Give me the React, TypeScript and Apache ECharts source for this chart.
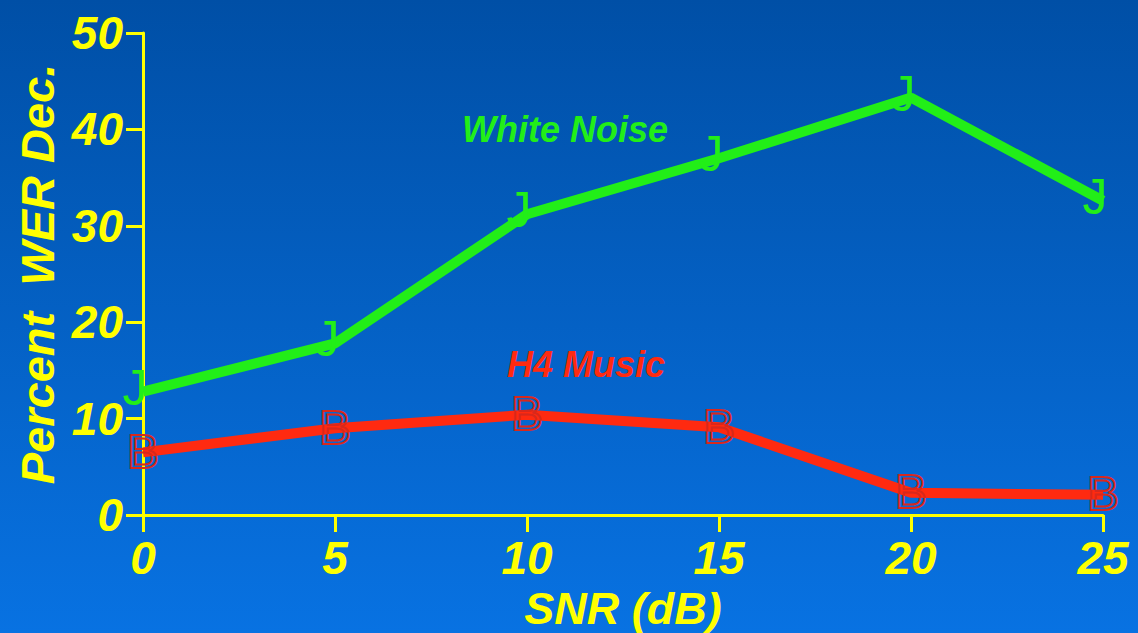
import React, { useEffect, useRef } from "react";
import * as echarts from "echarts";

const snr = [0, 5, 10, 15, 20, 25];
const whiteNoise = [12.8, 17.8, 31.2, 37.0, 43.3, 32.6];
const h4Music = [6.5, 9.0, 10.4, 9.1, 2.3, 2.1];
const yTicks = [0, 10, 20, 30, 40, 50];

const FONT = "Liberation Sans";
const YELLOW = "#ffff00";
const GREEN = "#22ee18";
const RED = "#ff2a10";

export default function App() {
  const ref = useRef<HTMLDivElement>(null);
  useEffect(() => {
    document.body.style.margin = "0";
    const chart = echarts.init(ref.current!, null, { renderer: "svg" });
    const axisText = {
      color: YELLOW,
      fontFamily: FONT,
      fontWeight: "bold" as const,
      fontStyle: "italic" as const,
      fontSize: 46,
    };
    chart.setOption({
      animation: false,
      backgroundColor: new echarts.graphic.LinearGradient(0, 0, 0, 1, [
        { offset: 0, color: "#004fa6" },
        { offset: 1, color: "#0872e2" },
      ]),
      grid: { left: 143, right: 35, top: 33, bottom: 118, outerBoundsMode: "none", containLabel: false },
      xAxis: {
        type: "value",
        min: 0,
        max: 25,
        interval: 5,
        name: "SNR (dB)",
        nameLocation: "middle",
        nameGap: 71,
        nameTextStyle: { ...axisText, fontSize: 45, lineHeight: 40 },
        axisLine: { lineStyle: { color: YELLOW, width: 3 } },
        axisTick: { show: true, length: 17, lineStyle: { color: YELLOW, width: 3 } },
        axisLabel: { ...axisText, margin: 20 },
        splitLine: { show: false },
      },
      yAxis: {
        type: "value",
        min: yTicks[0],
        max: yTicks[yTicks.length - 1],
        interval: 10,
        name: "Percent  WER Dec.",
        nameLocation: "middle",
        nameGap: 81,
        nameTextStyle: { ...axisText, fontSize: 47 },
        axisLine: { show: true, lineStyle: { color: YELLOW, width: 3 } },
        axisTick: { show: true, length: 17, lineStyle: { color: YELLOW, width: 3 } },
        axisLabel: { ...axisText, margin: 20 },
        splitLine: { show: false },
      },
      series: [
        {
          name: "White Noise",
          type: "line",
          data: snr.map((x, i) => [x, whiteNoise[i]]),
          symbol: "circle",
          symbolSize: 1,
          showSymbol: true,
          itemStyle: { color: "rgba(0,0,0,0)" },
          lineStyle: { color: GREEN, width: 10 },
          label: {
            show: true,
            position: "inside",
            formatter: "J",
            color: GREEN,
            fontFamily: FONT,
            fontSize: 50,
            offset: [-8, -4],
          },
        },
        {
          name: "H4 Music",
          type: "line",
          data: snr.map((x, i) => [x, h4Music[i]]),
          symbol: "circle",
          symbolSize: 1,
          showSymbol: true,
          itemStyle: { color: "rgba(0,0,0,0)" },
          lineStyle: { color: RED, width: 10 },
          label: {
            show: true,
            position: "inside",
            formatter: "B",
            color: "rgba(0,0,0,0)",
            textBorderColor: "#d8281c",
            textBorderWidth: 2,
            fontFamily: FONT,
            fontSize: 48,
            offset: [0, -1],
          },
        },
      ],
      graphic: [
        {
          type: "text",
          left: 462,
          top: 111,
          style: {
            text: "White Noise",
            fill: GREEN,
            font: `italic bold 36px "${FONT}"`,
          },
        },
        {
          type: "text",
          left: 507,
          top: 346,
          style: {
            text: "H4 Music",
            fill: RED,
            font: `italic bold 36px "${FONT}"`,
          },
        },
      ],
    });
    return () => chart.dispose();
  }, []);
  return <div ref={ref} style={{ width: 1138, height: 633 }} />;
}
